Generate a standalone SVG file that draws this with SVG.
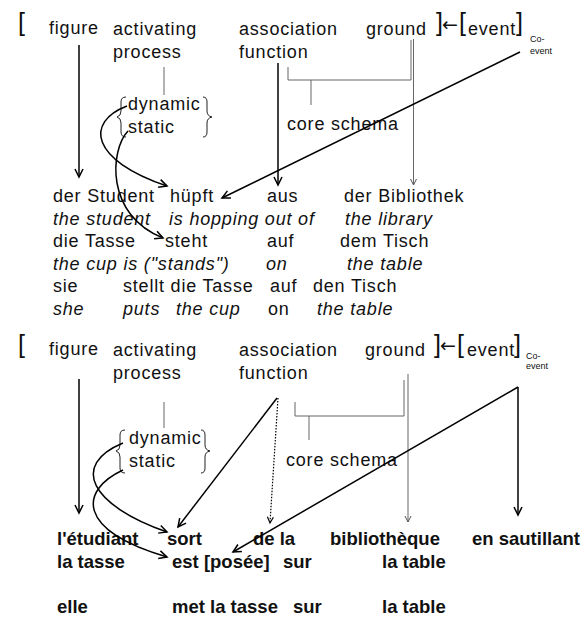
<svg xmlns="http://www.w3.org/2000/svg" width="588" height="618" viewBox="0 0 588 618">
  <style>
    .t { font-family: "Liberation Sans", Arial, sans-serif; font-size: 18px; letter-spacing: 0.8px; fill: #111; }
    .i { font-style: italic; }
    .b { font-family: "Liberation Sans", Arial, sans-serif; font-size: 18.5px; font-weight: bold; fill: #111; }
    .br { font-family: "Liberation Sans", Arial, sans-serif; font-size: 25px; fill: #111; }
    .ar { font-family: "DejaVu Sans", sans-serif; font-size: 19px; fill: #111; }
    .sm { font-family: "Liberation Sans", Arial, sans-serif; font-size: 9px; fill: #111; }
    .ln { fill: none; stroke: #000; stroke-width: 1.5; }
    .gr { fill: none; stroke: #666; stroke-width: 1; }
    .brace { fill: none; stroke: #222; stroke-width: 1; }
    .dot { fill: none; stroke: #000; stroke-width: 1.2; stroke-dasharray: 1.5 1.5; }
  </style>
  <defs>
    <marker id="arr" markerUnits="userSpaceOnUse" markerWidth="12" markerHeight="12" refX="9" refY="5" orient="auto">
      <path d="M1,1 L9,5 L1,9" fill="none" stroke="#000" stroke-width="1.5"/>
    </marker>
    <marker id="arrGray" markerUnits="userSpaceOnUse" markerWidth="10" markerHeight="10" refX="7" refY="4" orient="auto">
      <path d="M1,1 L7,4 L1,7" fill="none" stroke="#555" stroke-width="1"/>
    </marker>
    <marker id="arrSmall" markerUnits="userSpaceOnUse" markerWidth="10" markerHeight="10" refX="7" refY="4" orient="auto">
      <path d="M1,1 L7,4 L1,7" fill="none" stroke="#000" stroke-width="1.2"/>
    </marker>
  </defs>

  <!-- ===== German schema ===== -->
  <g id="top-open-bracket"><text class="br" x="18" y="31">[</text></g>
  <g id="top-figure"><text class="t" x="49" y="34">figure</text></g>
  <g id="top-activating-process">
    <text class="t" x="113" y="34.5">activating</text>
    <text class="t" x="113" y="57.5">process</text>
  </g>
  <g id="top-association-function">
    <text class="t" x="239" y="34.5">association</text>
    <text class="t" x="239" y="57.5">function</text>
  </g>
  <g id="top-ground"><text class="t" x="366" y="34.5">ground</text></g>
  <g id="top-event">
    <text class="br" x="436" y="31">]</text>
    <text class="ar" x="442" y="31">←</text>
    <text class="br" x="459" y="31">[</text>
    <text class="t" x="468" y="34.5">event</text>
    <text class="br" x="516" y="31">]</text>
    <text class="sm" x="530" y="41.5">Co-</text>
    <text class="sm" x="530" y="53.5">event</text>
  </g>
  <g id="top-dynamic-static">
    <path class="brace" d="M126,97 Q121,97 121,102 L121,111 Q121,116 117,117 Q121,118 121,123 L121,132 Q121,137 126,137"/>
    <text class="t" x="128" y="110">dynamic</text>
    <text class="t" x="128" y="133">static</text>
    <path class="brace" d="M203,97 Q207,97 207,102 L207,111 Q207,116 212,117 Q207,118 207,123 L207,132 Q207,137 203,137"/>
  </g>
  <g id="top-core-schema"><text class="t" x="287" y="130">core schema</text></g>

  <g id="german-sentences">
    <text class="t" y="202"><tspan x="53">der Student</tspan><tspan x="170">hüpft</tspan><tspan x="267">aus</tspan><tspan x="344">der Bibliothek</tspan></text>
    <text class="t i" y="224.5"><tspan x="53">the student</tspan><tspan x="169">is hopping out of</tspan><tspan x="345">the library</tspan></text>
    <text class="t" y="247"><tspan x="53">die Tasse</tspan><tspan x="165">steht</tspan><tspan x="267">auf</tspan><tspan x="340">dem Tisch</tspan></text>
    <text class="t i" y="269.5"><tspan x="53">the cup is ("stands")</tspan><tspan x="266">on</tspan><tspan x="347">the table</tspan></text>
    <text class="t" y="292"><tspan x="53">sie</tspan><tspan x="123">stellt die Tasse</tspan><tspan x="270">auf</tspan><tspan x="313">den Tisch</tspan></text>
    <text class="t" y="314.5"><tspan x="53" font-style="italic">she</tspan><tspan x="123" font-style="italic">puts</tspan><tspan x="176" font-style="italic">the cup</tspan><tspan x="268">on</tspan><tspan x="317" font-style="italic">the table</tspan></text>
  </g>

  <!-- ===== French schema ===== -->
  <g id="bot-open-bracket"><text class="br" x="18" y="353">[</text></g>
  <g id="bot-figure"><text class="t" x="49" y="355">figure</text></g>
  <g id="bot-activating-process">
    <text class="t" x="113" y="355.5">activating</text>
    <text class="t" x="113" y="378.5">process</text>
  </g>
  <g id="bot-association-function">
    <text class="t" x="239" y="355.5">association</text>
    <text class="t" x="239" y="378.5">function</text>
  </g>
  <g id="bot-ground"><text class="t" x="365" y="356">ground</text></g>
  <g id="bot-event">
    <text class="br" x="434" y="353">]</text>
    <text class="ar" x="440" y="352">←</text>
    <text class="br" x="457" y="353">[</text>
    <text class="t" x="467" y="356">event</text>
    <text class="br" x="514" y="353">]</text>
    <text class="sm" x="526" y="358.5">Co-</text>
    <text class="sm" x="526" y="369">event</text>
  </g>
  <g id="bot-dynamic-static">
    <path class="brace" d="M125,430 Q120,430 120,435 L120,445 Q120,450 116,451 Q120,452 120,457 L120,468 Q120,473 125,473"/>
    <text class="t" x="129" y="444">dynamic</text>
    <text class="t" x="129" y="467">static</text>
    <path class="brace" d="M201,430 Q205,430 205,435 L205,445 Q205,450 210,451 Q205,452 205,457 L205,468 Q205,473 201,473"/>
  </g>
  <g id="bot-core-schema"><text class="t" x="286" y="466">core schema</text></g>

  <g id="french-sentences">
    <text class="b" y="545"><tspan x="57">l'étudiant</tspan><tspan x="167">sort</tspan><tspan x="253">de la</tspan><tspan x="330">bibliothèque</tspan><tspan x="472">en sautillant</tspan></text>
    <text class="b" y="568"><tspan x="57">la tasse</tspan><tspan x="172">est [posée]</tspan><tspan x="283">sur</tspan><tspan x="382">la table</tspan></text>
    <text class="b" y="613"><tspan x="57">elle</tspan><tspan x="172">met la tasse</tspan><tspan x="293">sur</tspan><tspan x="382">la table</tspan></text>
  </g>

  <!-- ===== Connectors ===== -->
  <g id="connectors">
    <!-- German schema -->
    <path class="ln" d="M79,45 L79,177" marker-end="url(#arr)"/>
    <path class="gr" d="M164,67 L164,95"/>
    <path class="ln" d="M278,63 L278,185" marker-end="url(#arr)"/>
    <path class="gr" d="M288,67 L288,80 L411,80 L411,40"/>
    <path class="gr" d="M311,80 L311,105"/>
    <path class="gr" d="M413.5,39 L413.5,185" marker-end="url(#arrGray)"/>
    <path class="ln" d="M520,52 L222,198" marker-end="url(#arr)"/>
    <path class="ln" d="M127,106 C85,122 90,160 167,186" marker-end="url(#arr)"/>
    <path class="ln" d="M128,131 C110,150 105,215 163,238" marker-end="url(#arr)"/>

    <!-- French schema -->
    <path class="ln" d="M79,379 L79,513" marker-end="url(#arr)"/>
    <path class="gr" d="M164,402 L164,428"/>
    <path class="ln" d="M277,398 L178,527" marker-end="url(#arr)"/>
    <path class="dot" d="M278,398 L270,523" marker-end="url(#arrSmall)"/>
    <path class="gr" d="M295,402 L295,416 L404,416 L404,380"/>
    <path class="gr" d="M309,416 L309,440"/>
    <path class="gr" d="M408,374 L408,522" marker-end="url(#arrGray)"/>
    <path class="ln" d="M518,387 L233,552" marker-end="url(#arr)"/>
    <path class="ln" d="M518,387 L518,515" marker-end="url(#arr)"/>
    <path class="ln" d="M123,443 C70,465 90,505 167,532" marker-end="url(#arr)"/>
    <path class="ln" d="M123,470 C80,490 75,530 167,557" marker-end="url(#arr)"/>
  </g>
</svg>
